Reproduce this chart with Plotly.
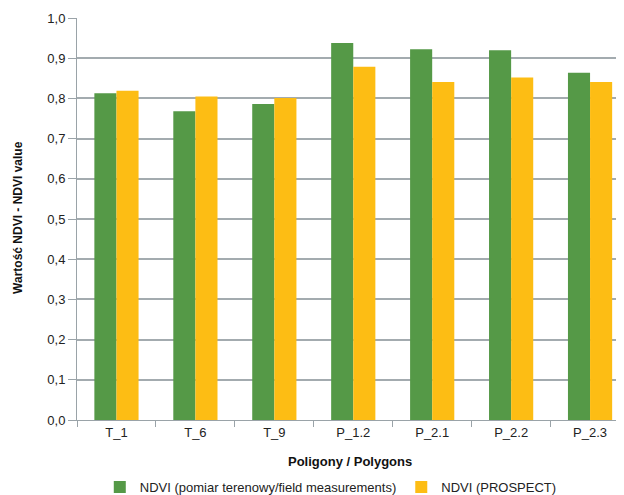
import plotly.graph_objects as go

categories = ["T_1", "T_6", "T_9", "P_1.2", "P_2.1", "P_2.2", "P_2.3"]
ndvi_field = [0.813, 0.768, 0.786, 0.938, 0.922, 0.920, 0.864]
ndvi_prospect = [0.819, 0.805, 0.801, 0.879, 0.841, 0.852, 0.841]
y_ticks = [0.0, 0.1, 0.2, 0.3, 0.4, 0.5, 0.6, 0.7, 0.8, 0.9, 1.0]

FONT = "Liberation Sans, Arial, sans-serif"

fig = go.Figure()
fig.add_trace(go.Bar(x=categories, y=ndvi_field,
                     name="NDVI (pomiar terenowy/field measurements)",
                     marker=dict(color="#559947", line=dict(width=0))))
fig.add_trace(go.Bar(x=categories, y=ndvi_prospect,
                     name="NDVI (PROSPECT)",
                     marker=dict(color="#FDBD14", line=dict(width=0))))

fig.update_layout(
    width=616, height=487,
    margin=dict(l=69, r=0, t=10, b=75, autoexpand=False),
    paper_bgcolor="white", plot_bgcolor="white",
    separators=",.",
    barmode="group", bargap=0.44, bargroupgap=0,
    font=dict(family=FONT, size=13, color="#222222"),
    showlegend=True,
    legend=dict(orientation="h", xref="container", yref="paper",
                x=0.149, xanchor="left", y=-0.1667, yanchor="middle",
                font=dict(family=FONT, size=13, color="#222222"),
                itemwidth=30, traceorder="normal", tracegroupgap=0),
    annotations=[
        dict(text="<b>Poligony / Polygons</b>", xref="paper", yref="paper",
             x=0.499, y=-0.102, xanchor="center", yanchor="middle", showarrow=False,
             font=dict(family=FONT, size=13, color="#111111")),
        dict(text="<b>Wartość NDVI - NDVI value</b>", xref="paper", yref="paper",
             x=-0.108, y=0.505, xanchor="center", yanchor="middle", showarrow=False,
             textangle=-90, font=dict(family=FONT, size=12, color="#111111")),
    ],
)
fig.update_xaxes(
    range=[-0.5, 6.43], automargin=False,
    showline=True, linecolor="#9AA3A8", linewidth=1,
    ticks="outside", tickson="boundaries", ticklen=6, tickcolor="#9AA3A8",
    tickfont=dict(family=FONT, size=13, color="#222222"),
    showgrid=False,
)
fig.update_yaxes(
    range=[0, 1.0], tickvals=y_ticks, tickformat=".1f", automargin=False,
    showline=True, linecolor="#9AA3A8", linewidth=1,
    ticks="outside", ticklen=8, tickcolor="#9AA3A8",
    showgrid=True, gridcolor="#A3ABAF", gridwidth=1.5,
    zeroline=False,
    tickfont=dict(family=FONT, size=13, color="#222222"),
)

fig.write_html("out.html")
